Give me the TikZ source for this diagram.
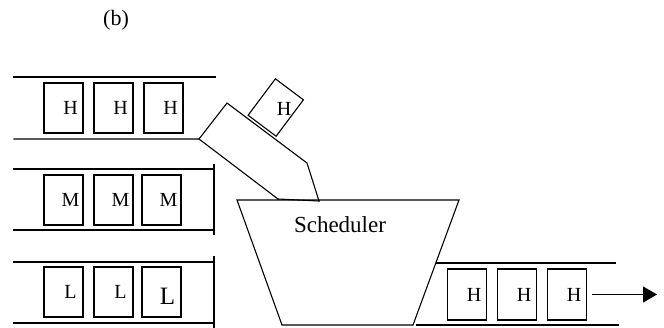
\documentclass[tikz,border=0pt]{standalone}
\usepackage{fontspec}
\setmainfont{Liberation Serif}
\usetikzlibrary{arrows.meta,calc}
\begin{document}
\begin{tikzpicture}[x=1pt,y=-1pt,
  ln/.style={line width=1.1pt, line cap=rect},
  box/.style={draw, line width=1.1pt, minimum width=39pt, minimum height=50pt, inner sep=0pt},
  lab/.style={label={[xshift=7pt, inner sep=0pt, font=\fontsize{20}{20}\selectfont]center:#1}},
  bigf/.style={font=\fontsize{#1}{#1}\selectfont},
  arr/.style={line width=1.1pt, -{Triangle[length=14pt,width=16pt]}}]
\useasboundingbox (0,0) rectangle (664,327);

\node[bigf=22] (b) at (116,20) {(b)};

% H lane
\draw[ln] (14,77) -- (215,77);
\node[box, lab=H] (h1) at (63.5,108) {};
\node[box, lab=H] (h2) at (113.5,108) {};
\node[box, lab=H] (h3) at (163.5,108) {};

% M lane
\draw[ln] (14,169) -- (214,169);
\draw[ln] (14,230) -- (214,230);
\draw[ln] (214,165) -- (214,234);
\node[box, lab=M] (m1) at (63.5,200) {};
\node[box, lab=M] (m2) at (113.5,200) {};
\node[box, lab=M] (m3) at (161.5,200) {};

% L lane
\draw[ln] (14,262) -- (214,262);
\draw[ln] (14,323) -- (214,323);
\draw[ln] (214,257) -- (214,327);
\node[box, lab=L] (l1) at (63.5,292) {};
\node[box, lab=L] (l2) at (113.5,292) {};
\node[box, label={[xshift=6pt, yshift=-4pt, inner sep=0pt, font=\fontsize{25}{25}\selectfont]center:L}] (l3) at (161.5,292) {};

% chute with H lane bottom
\draw[ln, line join=miter] (14,139) -- (199,139) -- (227,103) -- (307,163) -- (319,201);
\draw[ln] (199,139) -- (278,199);
\draw[ln] (278,199) -- (319,201);

% tilted H box
\node[draw, line width=1.1pt, rotate=-36.87, minimum width=35pt, minimum height=45.5pt, inner sep=0pt] (ht) at (275.75,107.5) {};
\node[bigf=20, inner sep=0pt] (htl) at (284,109) {H};

% scheduler
\draw[ln, line join=miter] (237,200) -- (459,200) -- (413,325) -- (282,325) -- cycle;
\node[bigf=23] (sched) at (340,225) {Scheduler};

% output lane
\draw[ln] (437,263) -- (615,263);
\draw[ln] (417,325) -- (618,325);
\node[box, minimum height=51pt, lab=H] (o1) at (467,294.5) {};
\node[box, minimum height=51pt, lab=H] (o2) at (517,294.5) {};
\node[box, minimum height=51pt, lab=H] (o3) at (567,294.5) {};
\coordinate (outend) at (657,294.5);
\draw[arr, shorten <=5pt] (o3.east) -- (outend);
\end{tikzpicture}
\end{document}
